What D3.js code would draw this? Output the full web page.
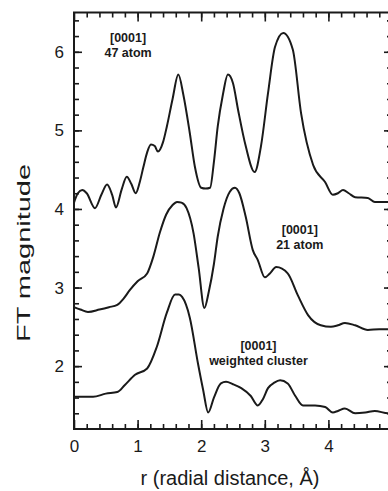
<!DOCTYPE html>
<html>
<head>
<meta charset="utf-8">
<script src="https://cdn.jsdelivr.net/npm/d3@7"></script>
<style>
  body { margin: 0; background: #fff; }
  svg { display: block; }
  text { font-family: "Liberation Sans", Arial, sans-serif; fill: #1a1a1a; }
</style>
</head>
<body>
<div id="container"></div>
<script>
let w = 388;
let h = 491;

// x positions (r, in Å) and FT magnitudes
let rTop = [0, 0.06, 0.13, 0.2, 0.33, 0.43, 0.52, 0.6, 0.66, 0.75, 0.83, 0.9, 0.97, 1.03, 1.09, 1.15, 1.21, 1.27, 1.32, 1.4, 1.46, 1.55, 1.64, 1.72, 1.82, 1.9, 2.0, 2.07, 2.14, 2.2, 2.26, 2.34, 2.42, 2.5, 2.58, 2.7, 2.84, 2.94, 3.05, 3.16, 3.29, 3.44, 3.57, 3.76, 3.95, 4.07, 4.15, 4.23, 4.32, 4.42, 4.62, 4.73, 4.94, 5.0];
let valsTop = [4.08, 4.2, 4.24, 4.2, 4.01, 4.18, 4.31, 4.18, 4.02, 4.25, 4.41, 4.32, 4.2, 4.33, 4.53, 4.72, 4.82, 4.8, 4.73, 4.85, 5.05, 5.4, 5.71, 5.45, 4.97, 4.54, 4.27, 4.26, 4.27, 4.6, 5.05, 5.45, 5.71, 5.6, 5.26, 4.8, 4.47, 4.8, 5.47, 6.06, 6.24, 6.03, 5.22, 4.56, 4.34, 4.18, 4.2, 4.24, 4.2, 4.15, 4.14, 4.09, 4.09, 4.09];

let rMid = [0, 0.1, 0.22, 0.4, 0.55, 0.68, 0.78, 0.88, 1.0, 1.15, 1.25, 1.35, 1.45, 1.55, 1.62, 1.69, 1.77, 1.88, 1.96, 2.05, 2.12, 2.2, 2.26, 2.35, 2.45, 2.53, 2.6, 2.7, 2.81, 2.89, 3.0, 3.08, 3.18, 3.36, 3.52, 3.68, 3.88, 4.04, 4.15, 4.26, 4.42, 4.62, 4.8, 5.0];
let valsMid = [2.75, 2.72, 2.69, 2.72, 2.75, 2.78, 2.86, 2.97, 3.08, 3.18, 3.4, 3.7, 3.93, 4.05, 4.09, 4.08, 4.01, 3.69, 3.25, 2.74, 2.95, 3.3, 3.65, 4.0, 4.22, 4.27, 4.2, 3.9, 3.48, 3.35, 3.13, 3.18, 3.26, 3.18, 2.9, 2.65, 2.52, 2.5, 2.52, 2.55, 2.52, 2.46, 2.47, 2.47];

let rBot = [0, 0.3, 0.5, 0.68, 0.8, 0.96, 1.15, 1.3, 1.46, 1.59, 1.65, 1.7, 1.82, 1.95, 2.03, 2.11, 2.2, 2.31, 2.39, 2.5, 2.63, 2.78, 2.89, 2.97, 3.05, 3.15, 3.24, 3.36, 3.48, 3.6, 3.79, 3.95, 4.07, 4.15, 4.26, 4.42, 4.58, 4.73, 4.94, 5.0];
let valsBot = [1.61, 1.61, 1.65, 1.67, 1.76, 1.89, 1.97, 2.24, 2.68, 2.91, 2.91, 2.88, 2.62, 2.03, 1.7, 1.41, 1.6, 1.78, 1.8, 1.77, 1.72, 1.62, 1.5, 1.58, 1.72, 1.79, 1.82, 1.78, 1.62, 1.5, 1.5, 1.48, 1.41, 1.43, 1.46, 1.4, 1.41, 1.43, 1.4, 1.41];

// tick values
let xMajor = [0, 1, 2, 3, 4, 5];
let xMinor = d3.range(0.2, 5, 0.2);
let yMajor = [2, 3, 4, 5, 6];
let yMinor = d3.range(1.4, 6.5, 0.2);

// labels
let seriesLabels = [
  { line1: "[0001]", line2: "47 atom", r: 0.85, v: 6.12 },
  { line1: "[0001]", line2: "21 atom", r: 3.55, v: 3.68 },
  { line1: "[0001]", line2: "weighted cluster", r: 2.9, v: 2.2 }
];

let viz = d3.select("#container")
  .append("svg")
    .attr("width", w)
    .attr("height", h)
    .style("background-color", "#fff");

let plotLeft = 74, plotRight = 392, plotTop = 12.5, plotBottom = 429;

let xScale = d3.scaleLinear().domain([0, 5]).range([plotLeft, plotRight]);
let yScale = d3.scaleLinear().domain([1.2, 6.5]).range([plotBottom, plotTop]);

// clip so the traces stay inside the frame
viz.append("clipPath").attr("id", "plotclip")
  .append("rect")
    .attr("x", plotLeft).attr("y", plotTop)
    .attr("width", plotRight - plotLeft).attr("height", plotBottom - plotTop);

function addAxis(axis, tx, ty, withLabels) {
  let g = viz.append("g")
    .attr("transform", "translate(" + tx + "," + ty + ")")
    .call(axis);
  g.select(".domain").remove();
  g.selectAll("line").attr("stroke", "#1a1a1a").attr("stroke-width", 1.6);
  if (!withLabels) {
    g.selectAll("text").remove();
  } else {
    g.selectAll("text").attr("font-size", 17).attr("fill", "#1a1a1a");
  }
  return g;
}

// bottom
addAxis(d3.axisBottom(xScale).tickValues(xMajor).tickSizeInner(-9).tickSizeOuter(0).tickPadding(11).tickFormat(d3.format("d")), 0, plotBottom, true);
addAxis(d3.axisBottom(xScale).tickValues(xMinor).tickSizeInner(-5).tickSizeOuter(0), 0, plotBottom, false);
// top
addAxis(d3.axisTop(xScale).tickValues(xMajor).tickSizeInner(-9).tickSizeOuter(0), 0, plotTop, false);
addAxis(d3.axisTop(xScale).tickValues(xMinor).tickSizeInner(-5).tickSizeOuter(0), 0, plotTop, false);
// left
addAxis(d3.axisLeft(yScale).tickValues(yMajor).tickSizeInner(-8).tickSizeOuter(0).tickPadding(10).tickFormat(d3.format("d")), plotLeft, 0, true);
addAxis(d3.axisLeft(yScale).tickValues(yMinor).tickSizeInner(-5).tickSizeOuter(0), plotLeft, 0, false);
// right
addAxis(d3.axisRight(yScale).tickValues(yMajor).tickSizeInner(-8).tickSizeOuter(0), plotRight, 0, false);
addAxis(d3.axisRight(yScale).tickValues(yMinor).tickSizeInner(-5).tickSizeOuter(0), plotRight, 0, false);

// frame
viz.append("rect")
  .attr("x", plotLeft).attr("y", plotTop)
  .attr("width", plotRight - plotLeft).attr("height", plotBottom - plotTop)
  .attr("fill", "none")
  .attr("stroke", "#1a1a1a")
  .attr("stroke-width", 2);

// traces
let line = d3.line()
  .x(function(d){ return xScale(d[0]); })
  .y(function(d){ return yScale(d[1]); })
  .curve(d3.curveMonotoneX);

let traces = [
  d3.zip(rTop, valsTop),
  d3.zip(rMid, valsMid),
  d3.zip(rBot, valsBot)
];

viz.append("g").attr("clip-path", "url(#plotclip)")
  .selectAll("path").data(traces).enter()
  .append("path")
    .attr("d", line)
    .attr("fill", "none")
    .attr("stroke", "#1a1a1a")
    .attr("stroke-width", 2)
    .attr("stroke-linejoin", "round");

// series annotations
let ann = viz.selectAll(".ann").data(seriesLabels).enter()
  .append("text")
    .attr("class", "ann")
    .attr("text-anchor", "middle")
    .attr("font-size", 12.5)
    .attr("font-weight", "bold")
    .attr("transform", function(d){ return "translate(" + xScale(d.r) + "," + yScale(d.v) + ")"; });
ann.append("tspan").attr("x", 0).attr("y", 0).text(function(d){ return d.line1; });
ann.append("tspan").attr("x", 0).attr("y", 15).text(function(d){ return d.line2; });

// axis titles
viz.append("text")
  .attr("text-anchor", "middle")
  .attr("font-size", 20)
  .attr("x", 230)
  .attr("y", 485)
  .text("r (radial distance, Å)");

viz.append("text")
  .attr("text-anchor", "middle")
  .attr("font-size", 18)
  .attr("transform", "translate(30,253) rotate(-90)")
  .attr("textLength", 178)
  .attr("lengthAdjust", "spacingAndGlyphs")
  .text("FT magnitude");
</script>
</body>
</html>
